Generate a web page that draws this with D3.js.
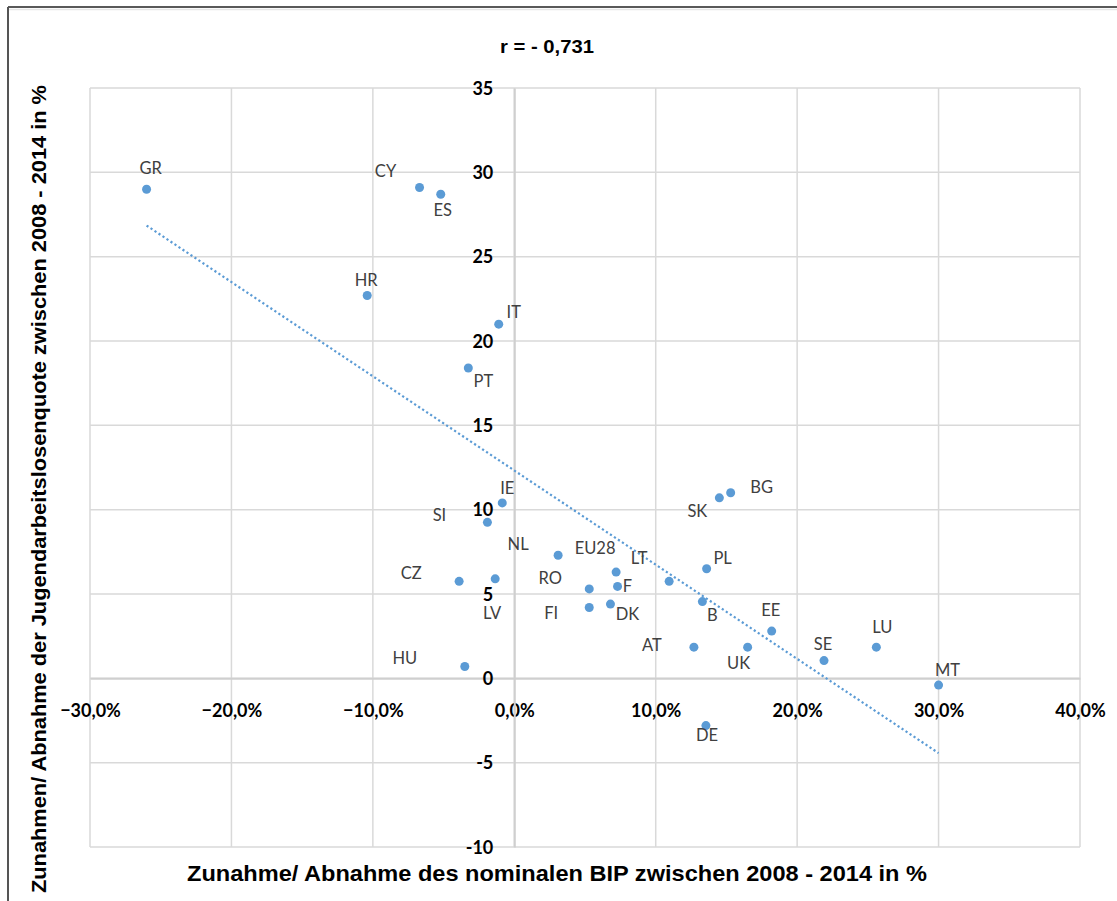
<!DOCTYPE html>
<html>
<head>
<meta charset="utf-8">
<script src="https://cdnjs.cloudflare.com/ajax/libs/d3/7.8.5/d3.min.js"></script>
<style>
  html, body { margin: 0; padding: 0; background: #fff; }
  svg { display: block; }
</style>
</head>
<body>
<script>
(function() {
    "use strict";

    //country codes and their values (GDP change and youth unemployment change, 2008 - 2014)
    var countries = ["GR", "CY", "ES", "HR", "IT", "PT", "IE", "SI", "CZ", "LV", "HU",
                     "NL", "EU28", "LT", "RO", "F", "FI", "DK", "PL", "B", "SK", "BG",
                     "EE", "AT", "UK", "SE", "LU", "MT", "DE"];
    var gdpChange = [-26.0, -6.7, -5.2, -10.4, -1.1, -3.25, -0.85, -1.9, -3.9, -1.35, -3.5,
                     3.1, 7.2, 10.95, 5.3, 7.3, 5.3, 6.8, 13.6, 13.3, 14.5, 15.3,
                     18.2, 12.7, 16.5, 21.9, 25.6, 30.0, 13.55];
    var youthUnemployment = [29.0, 29.1, 28.7, 22.7, 21.0, 18.4, 10.4, 9.25, 5.75, 5.9, 0.7,
                     7.3, 6.3, 5.75, 5.3, 5.45, 4.2, 4.4, 6.5, 4.55, 10.7, 11.0,
                     2.8, 1.85, 1.85, 1.05, 1.85, -0.4, -2.8];

    //tick values of both axes
    var xTicks = [-30, -20, -10, 0, 10, 20, 30, 40];
    var yTicks = [35, 30, 25, 20, 15, 10, 5, 0, -5, -10];

    var titleText = "r = - 0,731";
    var xTitle = "Zunahme/ Abnahme des nominalen BIP zwischen 2008 - 2014 in %";
    var yTitle = "Zunahmen/ Abnahme  der Jugendarbeitslosenquote zwischen 2008 - 2014 in %";

    //label placement relative to each point (pixels)
    var labelOffset = {
        GR: [4, -21], CY: [-34, -16], ES: [2, 16], HR: [-1, -15], IT: [15, -12],
        PT: [15, 13], IE: [5, -15], SI: [-48, -7], CZ: [-48, -8], LV: [-3, 34],
        HU: [-60, -8], NL: [-40, -11], EU28: [-21, -24], LT: [-30, -23], RO: [-39, -11],
        F: [10, 0], FI: [-38, 6], DK: [17, 10], PL: [16, -10], B: [10, 14],
        SK: [-22, 13], BG: [31, -6], EE: [-1, -21], AT: [-42, -2], UK: [-9, 16],
        SE: [-1, -16], LU: [6, -20], MT: [9, -15], DE: [1, 10]
    };

    var WIDTH = 1117, HEIGHT = 901;
    var PLOT = { left: 90, right: 1080, top: 88, bottom: 847 };
    var BLUE = "#5b9bd5";

    var data = countries.map(function(c, i) {
        return { name: c, x: gdpChange[i], y: youthUnemployment[i] };
    });

    var svg = d3.select("body").append("svg")
        .attr("width", WIDTH)
        .attr("height", HEIGHT);

    //outer frame of the chart object
    svg.append("line").attr("x1", 8).attr("x2", WIDTH).attr("y1", 7).attr("y2", 7)
        .attr("stroke", "#222").attr("stroke-width", 1.5);
    svg.append("line").attr("x1", 8).attr("x2", WIDTH).attr("y1", 9.5).attr("y2", 9.5)
        .attr("stroke", "#e6e6e6").attr("stroke-width", 1.5);
    svg.append("line").attr("x1", 8).attr("x2", 8).attr("y1", 7).attr("y2", HEIGHT)
        .attr("stroke", "#555").attr("stroke-width", 2);

    var x = d3.scaleLinear().domain([-30, 40]).range([PLOT.left, PLOT.right]);
    var y = d3.scaleLinear().domain([-10, 35]).range([PLOT.bottom, PLOT.top]);

    var de = d3.formatLocale({ decimal: ",", thousands: ".", grouping: [3], currency: ["", " €"] });
    var pct = de.format(".1f");

    //gridlines
    var grid = svg.append("g").attr("stroke", "#d9d9d9").attr("stroke-width", 1.5);
    grid.selectAll("line.v").data(xTicks).enter().append("line")
        .attr("class", "v")
        .attr("x1", function(d) { return x(d); }).attr("x2", function(d) { return x(d); })
        .attr("y1", PLOT.top).attr("y2", PLOT.bottom);
    grid.selectAll("line.h").data(yTicks).enter().append("line")
        .attr("class", "h")
        .attr("x1", PLOT.left).attr("x2", PLOT.right)
        .attr("y1", function(d) { return y(d); }).attr("y2", function(d) { return y(d); });

    //axes crossing at zero
    var xAxis = d3.axisBottom(x).tickValues(xTicks).tickSize(0).tickPadding(0)
        .tickFormat(function(d) { return pct(d) + "%"; });
    var yAxis = d3.axisLeft(y).tickValues(yTicks).tickSize(0).tickPadding(21)
        .tickFormat(function(d) { return d; });

    var gx = svg.append("g").attr("transform", "translate(0," + y(0) + ")").call(xAxis);
    var gy = svg.append("g").attr("transform", "translate(" + x(0) + ",0)").call(yAxis);
    [gx, gy].forEach(function(g) {
        g.select(".domain").attr("stroke", "#cfcfcf").attr("stroke-width", 2);
        g.selectAll("text")
            .attr("fill", "#000")
            .style("font-family", "Lato, 'Open Sans', sans-serif")
            .style("font-weight", "bold")
            .style("font-size", "18px");
    });
    gx.selectAll("text").attr("y", 0).attr("dy", "0.35em")
        .attr("transform", "translate(0,32)");
    gy.selectAll("text").attr("dy", "0.35em");

    //linear trendline (least squares) over the data range
    var mx = d3.mean(data, function(d) { return d.x; });
    var my = d3.mean(data, function(d) { return d.y; });
    var sxy = d3.sum(data, function(d) { return (d.x - mx) * (d.y - my); });
    var sxx = d3.sum(data, function(d) { return (d.x - mx) * (d.x - mx); });
    var slope = sxy / sxx, intercept = my - slope * mx;
    var ext = d3.extent(data, function(d) { return d.x; });
    svg.append("line")
        .attr("x1", x(ext[0])).attr("y1", y(intercept + slope * ext[0]))
        .attr("x2", x(ext[1])).attr("y2", y(intercept + slope * ext[1]))
        .attr("stroke", BLUE)
        .attr("stroke-width", 2.2)
        .attr("stroke-dasharray", "2.2,2.6");

    //points
    svg.selectAll("circle").data(data).enter().append("circle")
        .attr("cx", function(d) { return x(d.x); })
        .attr("cy", function(d) { return y(d.y); })
        .attr("r", 4.5)
        .attr("fill", BLUE);

    //country labels
    svg.selectAll("text.lbl").data(data).enter().append("text")
        .attr("class", "lbl")
        .attr("x", function(d) { return x(d.x) + labelOffset[d.name][0]; })
        .attr("y", function(d) { return y(d.y) + labelOffset[d.name][1]; })
        .attr("dy", "0.35em")
        .attr("text-anchor", "middle")
        .attr("fill", "#404040")
        .style("font-family", "Lato, 'Open Sans', sans-serif")
        .style("font-size", "16.5px")
        .text(function(d) { return d.name; });

    //titles
    var narrow = "'Liberation Sans Narrow', 'Liberation Sans', Arial, sans-serif";
    svg.append("text")
        .attr("x", 547).attr("y", 46).attr("dy", "0.35em")
        .attr("text-anchor", "middle")
        .attr("textLength", 94).attr("lengthAdjust", "spacingAndGlyphs")
        .style("font-family", narrow).style("font-weight", "bold").style("font-size", "19px")
        .text(titleText);
    svg.append("text")
        .attr("x", 557).attr("y", 873).attr("dy", "0.35em")
        .attr("text-anchor", "middle")
        .attr("textLength", 740).attr("lengthAdjust", "spacingAndGlyphs")
        .style("font-family", narrow).style("font-weight", "bold").style("font-size", "22px")
        .text(xTitle);
    svg.append("text")
        .attr("transform", "translate(39,489) rotate(-90)")
        .attr("dy", "0.35em")
        .attr("text-anchor", "middle")
        .attr("textLength", 808).attr("lengthAdjust", "spacingAndGlyphs")
        .style("font-family", narrow).style("font-weight", "bold").style("font-size", "20px")
        .text(yTitle);
}());
</script>
</body>
</html>
